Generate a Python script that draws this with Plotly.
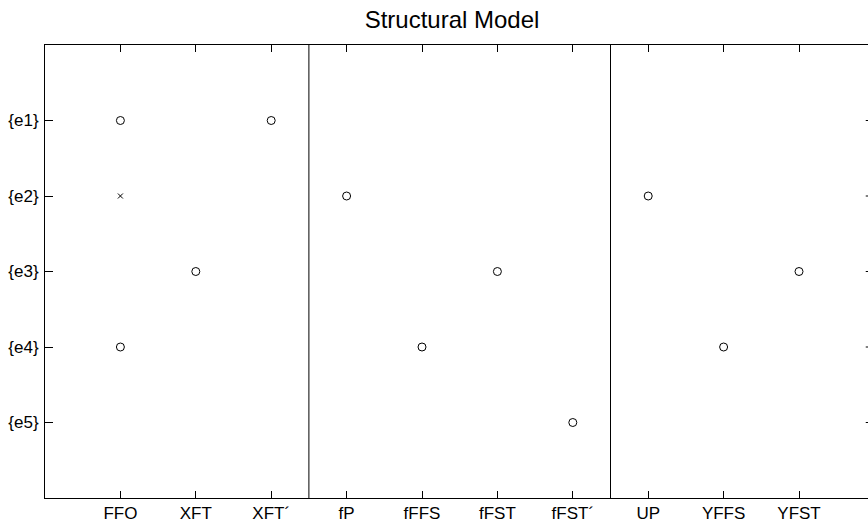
import plotly.graph_objects as go

categories = ["FFO", "XFT", "XFT´", "fP", "fFFS", "fFST", "fFST´", "UP", "YFFS", "YFST"]
equations = ["{e1}", "{e2}", "{e3}", "{e4}", "{e5}"]

# (category, equation) pairs
circle_cols = ["FFO", "XFT´", "fP", "UP", "XFT", "fFST", "YFST", "FFO", "fFFS", "YFFS", "fFST´"]
circle_rows = ["{e1}", "{e1}", "{e2}", "{e2}", "{e3}", "{e3}", "{e3}", "{e4}", "{e4}", "{e4}", "{e5}"]
cross_cols = ["FFO"]
cross_rows = ["{e2}"]
separators = [3.5, 7.5]

xi = {c: i + 1 for i, c in enumerate(categories)}
yi = {e: i + 1 for i, e in enumerate(equations)}

fig = go.Figure()
fig.add_trace(go.Scatter(
    x=[xi[c] for c in circle_cols], y=[yi[r] for r in circle_rows],
    mode="markers",
    marker=dict(symbol="circle-open", size=8, color="black", line=dict(width=1, color="black")),
    showlegend=False, hoverinfo="skip"))
fig.add_trace(go.Scatter(
    x=[xi[c] for c in cross_cols], y=[yi[r] for r in cross_rows],
    mode="markers",
    marker=dict(symbol="x-thin-open", size=5, color="black", line=dict(width=1, color="black")),
    showlegend=False, hoverinfo="skip"))

for s in separators:
    fig.add_shape(type="line", x0=s, x1=s, y0=0, y1=6, xref="x", yref="y",
                  line=dict(color="black", width=1))

XMAX = 10.915
for e in equations:
    fig.add_shape(type="line", x0=XMAX - 0.03, x1=XMAX, y0=yi[e], y1=yi[e], xref="x", yref="y",
                  line=dict(color="black", width=1))

fig.update_layout(
    width=868, height=526,
    margin=dict(l=45, r=0, t=45, b=28),
    paper_bgcolor="white", plot_bgcolor="white",
    font=dict(family="Liberation Sans, Arial", size=17, color="black"),
    title=dict(text="Structural Model", x=452 / 868, xref="container",
               xanchor="center", y=1 - 20 / 526, yanchor="middle",
               font=dict(size=24, color="black")),
    xaxis=dict(range=[0, XMAX], tickmode="array", tickvals=[xi[c] for c in categories],
               ticktext=categories, ticks="inside", ticklen=7, tickcolor="black",
               showline=True, linecolor="black", linewidth=1, mirror="ticks",
               showgrid=False, zeroline=False, fixedrange=True, automargin=False),
    yaxis=dict(range=[6, 0], tickmode="array", tickvals=[yi[e] for e in equations],
               ticktext=equations, ticks="inside", ticklen=8, tickcolor="black",
               showline=True, linecolor="black", linewidth=1, mirror=False,
               showgrid=False, zeroline=False, fixedrange=True, automargin=False,
               ticklabelstandoff=2),
)
fig.write_html("out.html", config={"displayModeBar": False},
               post_script="document.body.style.margin='0';document.body.style.overflow='hidden';")
